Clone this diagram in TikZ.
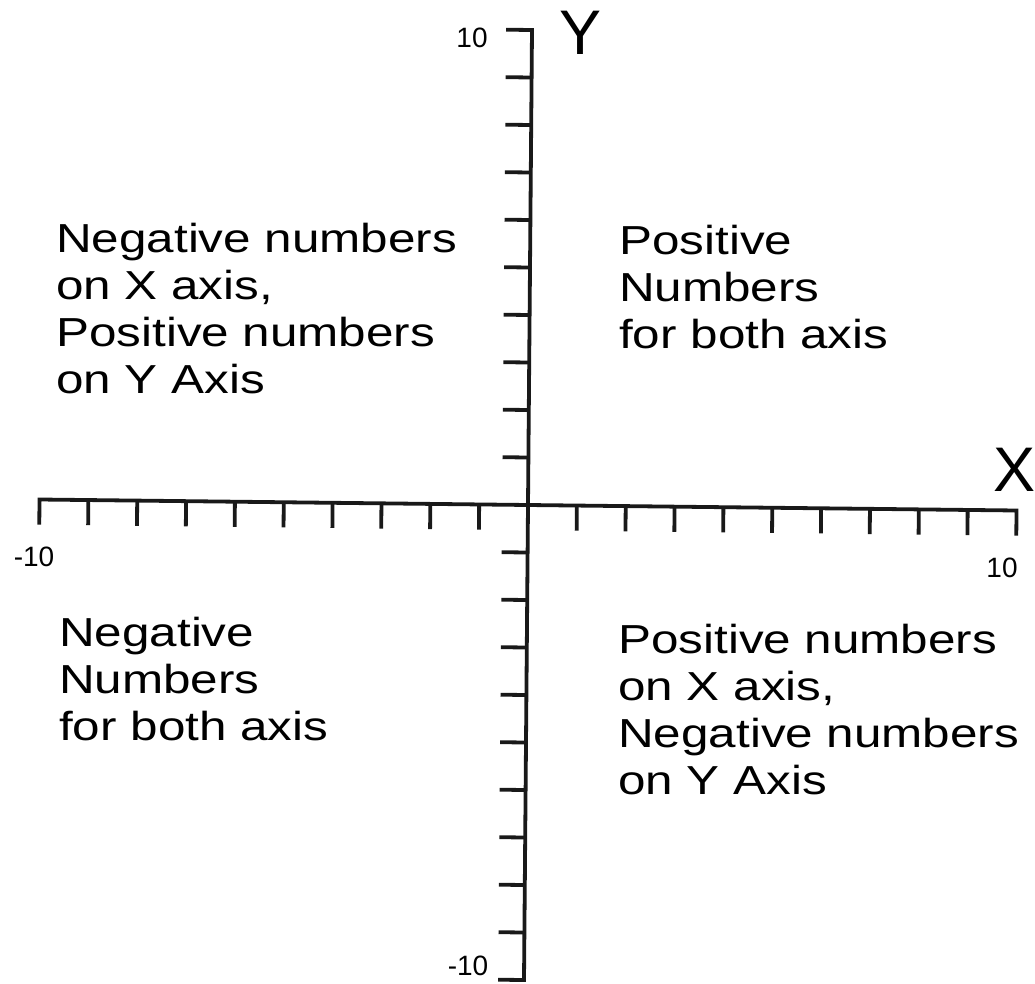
\documentclass[tikz,border=0pt]{standalone}
\usepackage{fontspec}
\setmainfont{Liberation Sans}
\newfontfamily\widefont[FakeStretch=1.22]{Liberation Sans}
\begin{document}
\begin{tikzpicture}[x=1pt,y=-1pt,
  axisline/.style={line width=3.8pt,line join=miter,black!90},
  ticklabel/.style={inner sep=0pt,font=\fontsize{28}{32}\selectfont},
  axisname/.style={inner sep=0pt,font=\fontsize{63}{70}\selectfont},
  quadtext/.style={inner sep=0pt,anchor=base west,align=left,
    font=\widefont\fontsize{40.5}{47}\selectfont}]
\useasboundingbox (0,0) rectangle (1035,984);
\begin{scope}[shift={(528,505)},x={(48.85pt,-0.55pt)},y={(0.4pt,47.5pt)}]
  \coordinate (O) at (0,0);
  \coordinate (xl) at (-10,0);
  \coordinate (xr) at (10,0);
  \coordinate (yt) at (0,10);
  \coordinate (yb) at (0,-10);
  \draw[axisline] (-10,-0.53) -- (xl) -- (xr) -- (10,-0.53);
  \draw[axisline] (-0.53,10) -- (yt) -- (yb) -- (-0.53,-10);
  \foreach \i in {-9,...,-1,1,2,...,9} {
    \draw[axisline] (\i,0) -- (\i,-0.53);
    \draw[axisline] (0,\i) -- (-0.53,\i);
  }
\end{scope}
\node[ticklabel] (ytop) at (472,38) {10};
\node[ticklabel] (ybot) at (468,966) {-10};
\node[ticklabel] (xleft) at (34,557) {-10};
\node[ticklabel] (xright) at (1002,568) {10};
\node[axisname] (Y) at (581,33) {Y};
\node[axisname] (X) at (1014,470) {X};
\node[quadtext] (q2) at (56,393) {Negative numbers\\on X axis,\\Positive numbers\\on Y Axis};
\node[quadtext] (q1) at (619,348) {Positive\\Numbers\\for both axis};
\node[quadtext] (q3) at (59,740) {Negative\\Numbers\\for both axis};
\node[quadtext] (q4) at (618,794) {Positive numbers\\on X axis,\\Negative numbers\\on Y Axis};
\end{tikzpicture}
\end{document}
